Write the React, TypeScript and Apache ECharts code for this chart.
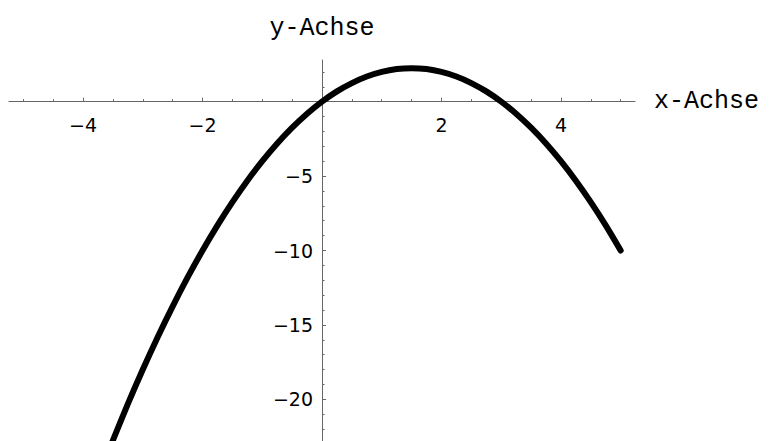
import React, { useEffect, useRef } from "react";
import * as echarts from "echarts";

// Curve points (x, y)
const curveX = [-3.75, -3.5, -3.25, -3, -2.75, -2.5, -2.25, -2, -1.75, -1.5, -1.25, -1, -0.75, -0.5, -0.25, 0, 0.25, 0.5, 0.75, 1, 1.25, 1.5, 1.75, 2, 2.25, 2.5, 2.75, 3, 3.25, 3.5, 3.75, 4, 4.25, 4.5, 4.75, 5];
const curveY = [-25.31, -22.75, -20.31, -18, -15.81, -13.75, -11.81, -10, -8.31, -6.75, -5.31, -4, -2.81, -1.75, -0.81, 0, 0.69, 1.25, 1.69, 2, 2.19, 2.25, 2.19, 2, 1.69, 1.25, 0.69, 0, -0.81, -1.75, -2.81, -4, -5.31, -6.75, -8.31, -10];

const xMajorTicks = [-4, -2, 2, 4];
const xMinorTicks = [-5, -4.5, -3.5, -3, -2.5, -1.5, -1, -0.5, 0.5, 1, 1.5, 2.5, 3, 3.5, 4.5, 5];
const yMajorTicks = [-20, -15, -10, -5];
const yMinorTicks = [-22, -21, -19, -18, -17, -16, -14, -13, -12, -11, -9, -8, -7, -6, -4, -3, -2, -1, 1, 2];

const X_MIN = -5.24;
const X_MAX = 5.24;
const Y_MIN = -22.8;
const Y_MAX = 2.8;

const xName = "x-Achse";
const yName = "y-Achse";

const fmt = (v: number) => (v < 0 ? "\u2212" + Math.abs(v) : String(v));

const GRID = { left: 9, right: 135, top: 60, bottom: 0 };
const W = 770;
const H = 441;

export default function App() {
  const ref = useRef<HTMLDivElement>(null);
  useEffect(() => {
    if (!ref.current) return;
    const chart = echarts.init(ref.current, undefined, { renderer: "svg" });
    const axisColor = "#666";
    const labelStyle = {
      fontFamily: "DejaVu Sans",
      fontSize: 19,
      color: "#000",
    };
    const nameStyle = {
      fontFamily: "Liberation Mono",
      fontSize: 25,
      color: "#000",
    };
    const xAxisBase = (major: boolean, offset: number) => ({
      type: "value",
      position: "bottom",
      min: X_MIN,
      max: X_MAX,
      offset,
      name: major ? xName : "",
      nameLocation: "end",
      nameGap: 19,
      nameTextStyle: { ...nameStyle, align: "left", verticalAlign: "middle", padding: [5, 0, 0, 0] },
      axisLine: { show: major, onZero: false, lineStyle: { color: axisColor, width: 1 } },
      axisTick: {
        show: true,
        inside: true,
        length: major ? 4 : 2.5,
        customValues: major ? xMajorTicks : xMinorTicks,
        lineStyle: { color: axisColor },
      },
      axisLabel: { show: major, margin: 14, customValues: xMajorTicks, formatter: fmt, ...labelStyle },
      splitLine: { show: false },
    });
    const yAxisBase = (major: boolean, offset: number) => ({
      type: "value",
      position: "left",
      min: Y_MIN,
      max: Y_MAX,
      offset,
      name: major ? yName : "",
      nameLocation: "end",
      nameGap: 19,
      nameTextStyle: { ...nameStyle, align: "center", verticalAlign: "bottom" },
      axisLine: { show: major, onZero: false, lineStyle: { color: axisColor, width: 1 } },
      axisTick: {
        show: true,
        inside: true,
        length: major ? 4 : 2.5,
        customValues: major ? yMajorTicks : yMinorTicks,
        lineStyle: { color: axisColor },
      },
      axisLabel: { show: major, margin: 9, customValues: yMajorTicks, formatter: fmt, ...labelStyle },
      splitLine: { show: false },
    });
    const build = (xOff: number, yOff: number) => ({
      animation: false,
      backgroundColor: "#fff",
      grid: { ...GRID, containLabel: false, outerBoundsMode: "none" },
      xAxis: [xAxisBase(true, xOff), xAxisBase(false, xOff)],
      yAxis: [yAxisBase(true, yOff), yAxisBase(false, yOff)],
      series: [
        {
          type: "line",
          xAxisIndex: 0,
          yAxisIndex: 0,
          data: curveX.map((x, i) => [x, curveY[i]]),
          smooth: 0.3,
          showSymbol: false,
          clip: true,
          lineStyle: { color: "#000", width: 6, cap: "round" },
        },
      ],
    });
    chart.setOption(build(0, 0));
    // Move both axes onto the zero lines, using the library's own scales
    const zeroX = chart.convertToPixel({ xAxisIndex: 0 }, 0) as number;
    const zeroY = chart.convertToPixel({ yAxisIndex: 0 }, 0) as number;
    const xOff = -(H - GRID.bottom - zeroY);
    const yOff = -(zeroX - GRID.left);
    chart.setOption(build(xOff, yOff));
    return () => chart.dispose();
  }, []);
  return (
    <div
      ref={ref}
      style={{ position: "fixed", left: 0, top: 0, width: W, height: H, background: "#fff" }}
    />
  );
}
